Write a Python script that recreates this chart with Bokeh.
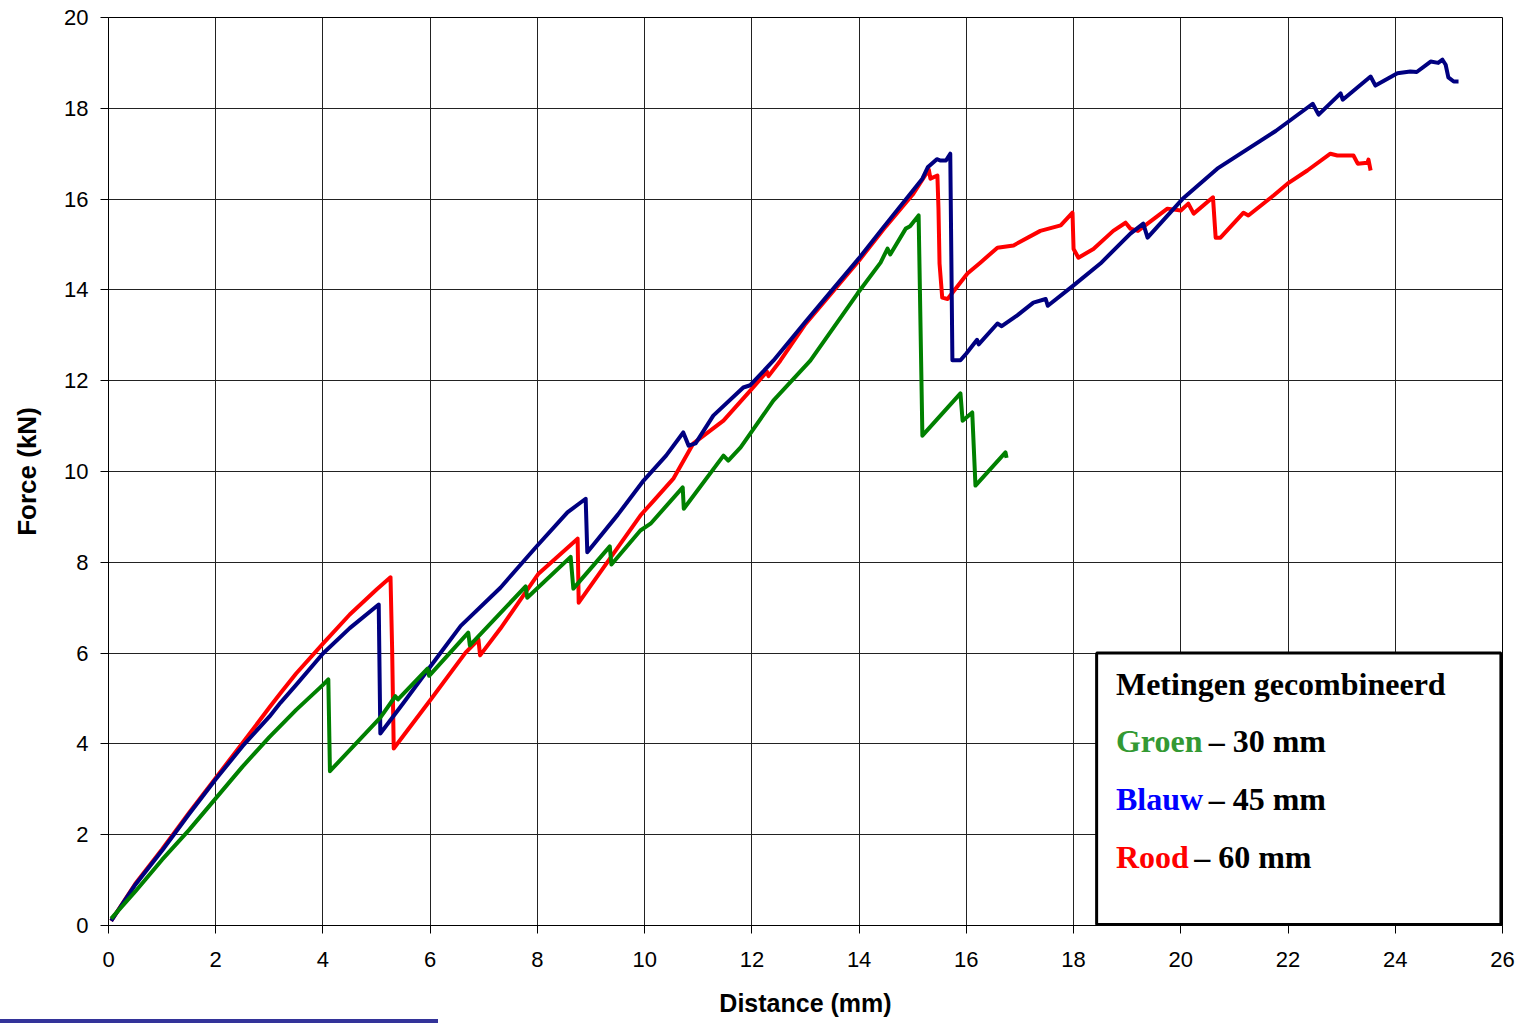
from bokeh.plotting import figure
from bokeh.models import SingleIntervalTicker, Range1d, BoxAnnotation, Label, Div
from bokeh.layouts import column
from bokeh.embed import file_html
from bokeh.resources import INLINE

# ---------------- data ----------------
green_x = [0.05, 0.5, 1.0, 1.5, 2.0, 2.5, 3.0, 3.5, 4.0, 4.10, 4.13, 5.07, 5.35, 5.40,
           5.95, 5.98, 6.71, 6.74, 7.78, 7.81, 8.62, 8.67, 9.35, 9.38, 9.92, 10.11,
           10.71, 10.73, 11.47, 11.56, 11.79, 12.4, 13.09, 13.97, 14.4, 14.53, 14.58,
           14.87, 14.95, 15.11, 15.18, 15.89, 15.93, 16.11, 16.17, 16.73, 16.75]
green_y = [0.15, 0.75, 1.45, 2.1, 2.8, 3.5, 4.15, 4.75, 5.3, 5.42, 3.40, 4.58, 5.05, 4.98,
           5.66, 5.50, 6.45, 6.17, 7.47, 7.22, 8.12, 7.42, 8.35, 7.95, 8.70, 8.85,
           9.65, 9.18, 10.35, 10.24, 10.53, 11.56, 12.44, 13.92, 14.6, 14.91, 14.78,
           15.35, 15.4, 15.64, 10.79, 11.72, 11.12, 11.3, 9.69, 10.42, 10.3]

blue_x = [0.05, 0.5, 1.0, 1.5, 2.0, 2.5, 3.0, 3.21, 3.5, 4.0, 4.5, 5.04, 5.07, 5.5, 6.0,
          6.57, 7.31, 8.0, 8.56, 8.9, 8.93, 9.5, 9.98, 10.4, 10.72, 10.82, 10.95, 11.28,
          11.84, 11.97, 12.4, 13.0, 13.5, 14.0, 14.4, 15.18, 15.28, 15.45, 15.52, 15.62,
          15.7, 15.74, 15.89, 16.0, 16.2, 16.23, 16.58, 16.66, 16.95, 17.25, 17.48, 17.52,
          18.0, 18.5, 19.06, 19.3, 19.38, 20.03, 20.68, 21.77, 22.46, 22.57, 22.98, 23.02,
          23.54, 23.63, 24.04, 24.28, 24.4, 24.66, 24.8, 24.88, 24.94, 24.99, 25.09, 25.18]
blue_y = [0.1, 0.9, 1.65, 2.45, 3.22, 3.95, 4.6, 4.91, 5.3, 5.99, 6.55, 7.07, 4.23, 4.9, 5.7,
          6.6, 7.44, 8.37, 9.1, 9.4, 8.22, 9.05, 9.8, 10.35, 10.86, 10.57, 10.62, 11.23,
          11.85, 11.9, 12.44, 13.3, 14.0, 14.7, 15.3, 16.45, 16.7, 16.88, 16.85, 16.85,
          17.0, 12.45, 12.45, 12.6, 12.9, 12.8, 13.26, 13.2, 13.44, 13.72, 13.8, 13.65,
          14.1, 14.58, 15.24, 15.46, 15.15, 16.0, 16.67, 17.5, 18.1, 17.86, 18.33, 18.19,
          18.7, 18.5, 18.77, 18.81, 18.8, 19.03, 19.0, 19.07, 18.96, 18.68, 18.59, 18.59]

red_x = [0.05, 0.5, 1.0, 1.5, 2.0, 2.5, 3.0, 3.21, 3.5, 4.0, 4.5, 5.0, 5.26, 5.29, 5.32,
         6.0, 6.66, 6.9, 6.93, 7.31, 8.02, 8.75, 8.77, 9.92, 10.17, 10.54, 10.91, 11.47,
         11.97, 12.28, 12.31, 12.53, 13.0, 13.5, 14.0, 14.5, 15.0, 15.3, 15.33, 15.46,
         15.48, 15.5, 15.55, 15.65, 16.02, 16.26, 16.58, 16.88, 17.38, 17.76, 17.98, 18.0,
         18.09, 18.37, 18.74, 18.97, 19.06, 19.2, 19.75, 20.0, 20.14, 20.24, 20.6, 20.65,
         20.74, 21.17, 21.26, 21.73, 21.99, 22.36, 22.79, 22.92, 23.22, 23.3, 23.48, 23.5,
         23.54]
red_y = [0.1, 0.92, 1.68, 2.48, 3.25, 4.02, 4.8, 5.12, 5.55, 6.21, 6.85, 7.4, 7.67, 6.1, 3.9,
         4.96, 6.01, 6.3, 5.95, 6.54, 7.75, 8.52, 7.11, 9.03, 9.36, 9.85, 10.62, 11.12,
         11.78, 12.2, 12.1, 12.44, 13.25, 13.95, 14.65, 15.4, 16.1, 16.65, 16.45, 16.52,
         15.8, 14.58, 13.83, 13.8, 14.36, 14.6, 14.93, 14.98, 15.3, 15.42, 15.7, 14.9,
         14.71, 14.9, 15.3, 15.48, 15.35, 15.3, 15.79, 15.75, 15.9, 15.68, 16.04, 15.15,
         15.15, 15.7, 15.64, 16.08, 16.34, 16.63, 17.0, 16.96, 16.96, 16.78, 16.8, 16.87,
         16.63]

legend_title = "Metingen gecombineerd"
legend_names = ["Groen", "Blauw", "Rood"]
legend_sizes = ["– 30 mm", "– 45 mm", "– 60 mm"]
legend_name_colors = ["#339933", "#0000FF", "#FF0000"]

# ---------------- figure ----------------
p = figure(width=1516, height=1019, output_backend="svg", toolbar_location=None,
           x_range=Range1d(0, 26), y_range=Range1d(0, 20),
           min_border_left=108, min_border_right=14, min_border_top=17,
           min_border_bottom=94, background_fill_color="white",
           border_fill_color="white", outline_line_color="#000000")

for ax, lab in ((p.xaxis[0], "Distance (mm)"), (p.yaxis[0], "Force (kN)")):
    ax.ticker = SingleIntervalTicker(interval=2)
    ax.axis_label = lab
    ax.axis_label_text_font = "Liberation Sans"
    ax.axis_label_text_font_style = "bold"
    ax.axis_label_text_color = "black"
    ax.major_label_text_font = "Liberation Sans"
    ax.major_label_text_font_size = "22px"
    ax.major_label_text_color = "black"
    ax.axis_line_color = "black"
    ax.major_tick_line_color = "black"
    ax.major_tick_out = 8
    ax.major_tick_in = 0
    ax.minor_tick_line_color = None

p.xaxis[0].axis_label_text_font_size = "25px"
p.yaxis[0].axis_label_text_font_size = "26px"
p.xaxis[0].major_label_standoff = 18
p.xaxis[0].axis_label_standoff = 19
p.yaxis[0].major_label_standoff = 12
p.yaxis[0].axis_label_standoff = 19

for g in (p.xgrid[0], p.ygrid[0]):
    g.ticker = SingleIntervalTicker(interval=2)
    g.grid_line_color = "#222222"
    g.grid_line_width = 1

p.line(red_x, red_y, line_color="#FF0000", line_width=4, line_join="round")
p.line(blue_x, blue_y, line_color="#000080", line_width=4, line_join="round")
p.line(green_x, green_y, line_color="#008000", line_width=4, line_join="round")

# ---------------- legend box ----------------
p.add_layout(BoxAnnotation(left=18.43, right=25.97, bottom=0.02, top=6.0,
                           fill_color="white", fill_alpha=1.0,
                           line_color="black", line_alpha=1.0, line_width=3))

serif = "Liberation Serif"
p.add_layout(Label(x=18.79, y=5.31, text=legend_title, text_font=serif,
                   text_font_style="bold", text_font_size="32px", text_color="black",
                   text_baseline="alphabetic"))
row_y = [4.06, 2.78, 1.50]
dash_x = [20.52, 20.52, 20.25]
for name, size, col, yy, dx in zip(legend_names, legend_sizes, legend_name_colors, row_y, dash_x):
    p.add_layout(Label(x=18.79, y=yy, text=name, text_font=serif, text_font_style="bold",
                       text_font_size="32px", text_color=col, text_baseline="alphabetic"))
    p.add_layout(Label(x=dx, y=yy, text=size, text_font=serif, text_font_style="bold",
                       text_font_size="32px", text_color="black", text_baseline="alphabetic"))

bar = Div(text="", width=438, height=4, margin=0,
          styles={"background-color": "#333399"})

layout = column(p, bar, spacing=0)
open("out.html", "w").write(file_html(layout, INLINE))
